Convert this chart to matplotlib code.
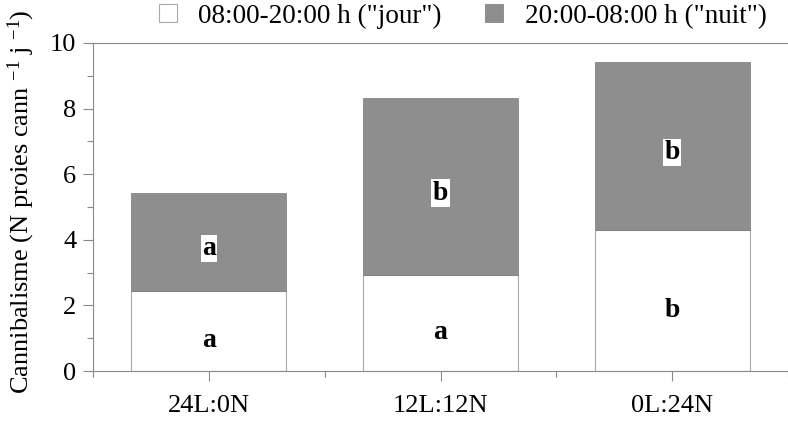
import matplotlib
matplotlib.use("Agg")
import matplotlib.pyplot as plt
from matplotlib.patches import Patch
from matplotlib.ticker import MultipleLocator
import numpy as np

# data
photoperiods = ["24L:0N", "12L:12N", "0L:24N"]
day_values = [2.44, 2.93, 4.30]
night_values = [2.99, 5.39, 5.12]
day_letters = ["a", "a", "b"]
night_letters = ["a", "b", "b"]
legend_labels = ['08:00-20:00 h ("jour")', '20:00-08:00 h ("nuit")']

plt.rcParams["font.family"] = ["Liberation Serif", "DejaVu Serif"]
plt.rcParams["mathtext.fontset"] = "custom"
plt.rcParams["mathtext.rm"] = "Liberation Serif"
plt.rcParams["mathtext.it"] = "Liberation Serif:italic"

spine_col = "#8a8a8a"
night_col = "#8e8e8e"
fs = 19

fig = plt.figure(figsize=(7.88, 4.24), dpi=100)
ax = fig.add_axes([93 / 788, 53 / 424, (788 - 93) / 788, 328 / 424])

x = np.arange(len(photoperiods))
day = np.array(day_values)
night = np.array(night_values)
w = 0.67

ax.bar(x, day, width=w, color="white", edgecolor="#a8a8a8", linewidth=0.8, zorder=2)
ax.bar(x, night, width=w, bottom=day, color=night_col, edgecolor="#7a7a7a",
       linewidth=0.5, zorder=2)

# significance letters, night ones sit on a small white box
for xi, d, n, ld, ln in zip(x, day, night, day_letters, night_letters):
    ax.text(xi, d / 2 - 0.3, ld, ha="center", va="center", fontsize=20,
            fontweight="bold", zorder=3)
    ax.text(xi, d + n / 2 - 0.2, ln, ha="center", va="center", fontsize=20,
            fontweight="bold", zorder=3,
            bbox=dict(facecolor="white", edgecolor="none", pad=1.0))

ax.set_xlim(-0.5, 2.5)
ax.set_ylim(0, 10)
ax.set_xticks(x)
ax.set_xticklabels(photoperiods)
ax.xaxis.set_minor_locator(MultipleLocator(1, offset=0.5))
ax.yaxis.set_major_locator(MultipleLocator(2))
ax.yaxis.set_minor_locator(MultipleLocator(1))
ax.tick_params(axis="both", which="major", labelsize=fs, length=7, width=0.8,
               color=spine_col, pad=5)
ax.tick_params(axis="both", which="minor", length=4, width=0.8, color=spine_col)
ax.tick_params(axis="x", which="major", pad=10)

for side in ["left", "bottom", "top"]:
    ax.spines[side].set_color(spine_col)
    ax.spines[side].set_linewidth(0.8)
ax.spines["right"].set_visible(False)

ax.set_ylabel(r"Cannibalisme (N proies cann $^{-1}$ j $^{-1}$)", fontsize=19)
ax.yaxis.set_label_coords(-0.08, 0.515)

handles = [Patch(facecolor="white", edgecolor="#a8a8a8", linewidth=0.8),
           Patch(facecolor=night_col, edgecolor="#7a7a7a", linewidth=0.5)]
fig.legend(handles, legend_labels, loc="center", bbox_to_anchor=(0.587, 0.962),
           ncol=2, frameon=False, fontsize=19.5, handlelength=0.66, handleheight=0.66,
           handletextpad=0.8, columnspacing=1.6)

fig.savefig("out.png", dpi=100)
